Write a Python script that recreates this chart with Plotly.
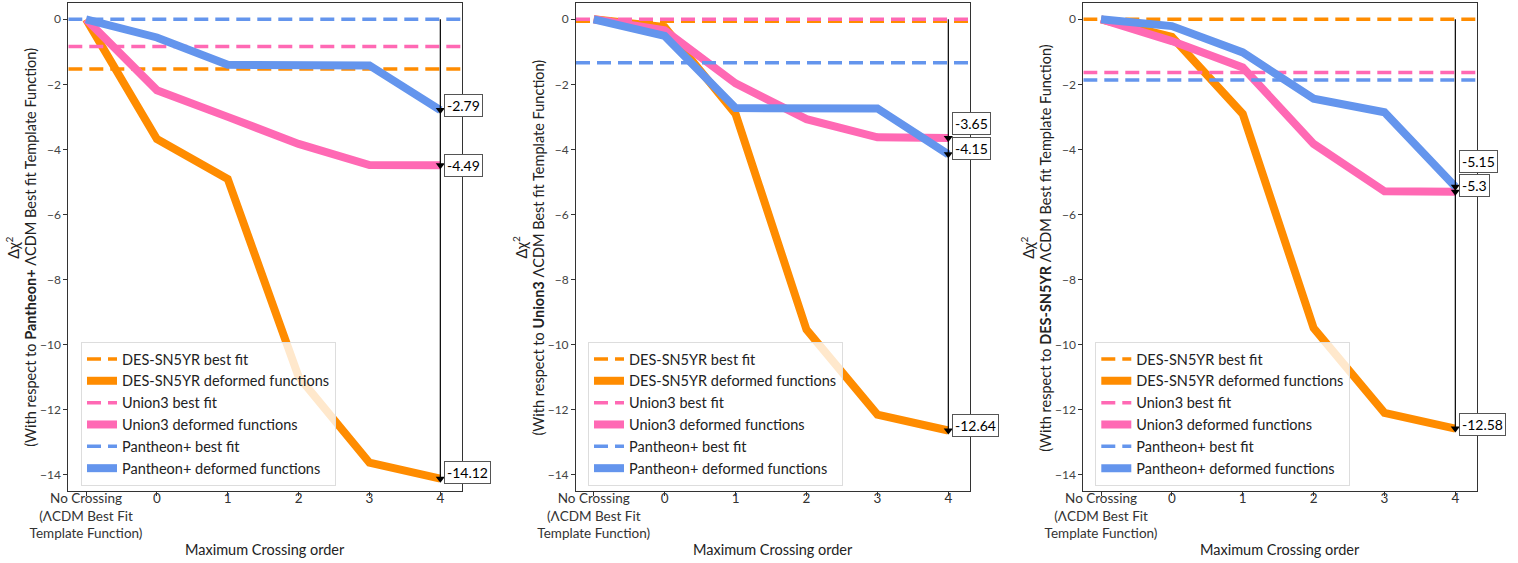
import plotly.graph_objects as go

# ---- data ----
crossing_order = [-1, 0, 1, 2, 3, 4]
tick_labels = ["No Crossing<br>(ΛCDM Best Fit<br>Template Function)", "0", "1", "2", "3", "4"]
reference_names = ["Pantheon+", "Union3", "DES-SN5YR"]

# Panel 1: with respect to Pantheon+
p1_des = [0, -3.68, -4.91, -10.99, -13.63, -14.12]
p1_union = [0, -2.18, -3.00, -3.83, -4.48, -4.49]
p1_pantheon = [0, -0.56, -1.40, -1.41, -1.42, -2.79]
p1_best = [-1.53, -0.84, 0.0]   # DES, Union3, Pantheon+ best fit

# Panel 2: with respect to Union3
p2_des = [0, -0.24, -2.91, -9.54, -12.15, -12.64]
p2_union = [0, -0.34, -1.97, -3.07, -3.63, -3.65]
p2_pantheon = [0, -0.51, -2.73, -2.72, -2.74, -4.15]
p2_best = [-0.06, 0.0, -1.34]

# Panel 3: with respect to DES-SN5YR
p3_des = [0, -0.54, -2.91, -9.49, -12.10, -12.58]
p3_union = [0, -0.67, -1.48, -3.83, -5.29, -5.30]
p3_pantheon = [0, -0.21, -1.02, -2.44, -2.86, -5.15]
p3_best = [0.0, -1.64, -1.87]

panels = [
    (p1_des, p1_union, p1_pantheon, p1_best),
    (p2_des, p2_union, p2_pantheon, p2_best),
    (p3_des, p3_union, p3_pantheon, p3_best),
]
# label vertical shifts (px) for DES, Union3, Pantheon+ end-value boxes
label_yshift = [[6, 0, 5], [5, 15, 6], [4, 6, 25]]

series_names = ["DES-SN5YR", "Union3", "Pantheon+"]
colors = ["#FF8C00", "#FF69B4", "#6495ED"]

W, H = 1518, 563
x_domains = [(68.3 / W, 462.3 / W), (576 / W, 970.3 / W), (1083.3 / W, 1477.3 / W)]
y_domain = (1 - 491 / H, 1 - 3 / H)
legend_x = [81 / W, 588 / W, 1095.3 / W]

FONT = "Lato"
fig = go.Figure()

for i, (des, uni, pan, best) in enumerate(panels):
    ax = "" if i == 0 else str(i + 1)
    xref, yref = "x" + ax, "y" + ax
    leg = "legend" + ax
    deformed = [des, uni, pan]
    for k in range(3):
        fig.add_trace(go.Scatter(
            x=[crossing_order[0] - 0.25, crossing_order[-1] + 0.31], y=[best[k], best[k]],
            mode="lines", line=dict(color=colors[k], width=3.5, dash="14px,7px"),
            name=series_names[k] + " best fit", xaxis=xref, yaxis=yref, legend=leg))
        fig.add_trace(go.Scatter(
            x=crossing_order, y=deformed[k], mode="lines",
            line=dict(color=colors[k], width=8),
            name=series_names[k] + " deformed functions", xaxis=xref, yaxis=yref, legend=leg))
    ends = [d[-1] for d in deformed]
    fig.add_trace(go.Scatter(
        x=[crossing_order[-1], crossing_order[-1]], y=[0, min(ends)], mode="lines",
        line=dict(color="black", width=1.2), showlegend=False, xaxis=xref, yaxis=yref))
    fig.add_trace(go.Scatter(
        x=[crossing_order[-1]] * 3, y=ends, mode="markers",
        marker=dict(symbol="triangle-down", size=8, color="black"),
        showlegend=False, xaxis=xref, yaxis=yref))
    for k in range(3):
        fig.add_annotation(
            x=crossing_order[-1], y=ends[k], xref=xref, yref=yref,
            text=("%g" % ends[k]),
            showarrow=False, xanchor="left", yanchor="middle",
            xshift=4, yshift=label_yshift[i][k],
            font=dict(family=FONT, size=14, color="black"),
            bgcolor="white", bordercolor="#555", borderwidth=1, borderpad=2)
    xa = dict(domain=x_domains[i], range=[-1.25, 4.31], tickvals=crossing_order,
              ticktext=tick_labels, showgrid=False, zeroline=False, automargin=False,
              showline=True, linecolor="#333", linewidth=1, mirror=True,
              ticks="outside", ticklen=4, tickcolor="#333", ticklabelstandoff=-9,
              tickfont=dict(family=FONT, size=13.5, color="#333"),
              anchor=yref)
    ya = dict(domain=y_domain, range=[-14.5, 0.5], tickvals=[0, -2, -4, -6, -8, -10, -12, -14],
              showgrid=False, zeroline=False, automargin=False,
              showline=True, linecolor="#333", linewidth=1, mirror=True,
              ticks="outside", ticklen=4, tickcolor="#333",
              tickfont=dict(family=FONT, size=12, color="#444"),
              anchor=xref)
    fig.update_layout(**{"xaxis" + ax: xa, "yaxis" + ax: ya})
    fig.update_layout(**{leg: dict(
        x=legend_x[i], y=1 - 486 / H, xanchor="left", yanchor="bottom",
        bgcolor="rgba(255,255,255,0.8)", bordercolor="#ddd", borderwidth=1,
        font=dict(family=FONT, size=14.5, color="#222"), tracegroupgap=0)})
    # y-axis title (two lines)
    ymid = 1 - 247.5 / H
    fig.add_annotation(
        x=(x_domains[i][0] * W - 56) / W, y=ymid,
        xref="paper", yref="paper", textangle=-90, showarrow=False,
        xanchor="center", yanchor="middle",
        text="Δχ<sup>2</sup>",
        font=dict(family=FONT, size=14.5, color="#222"))
    fig.add_annotation(
        x=(x_domains[i][0] * W - 38) / W, y=ymid,
        xref="paper", yref="paper", textangle=-90, showarrow=False,
        xanchor="center", yanchor="middle",
        text="(With respect to <b>" + reference_names[i] +
             "</b> ΛCDM Best fit Template Function)",
        font=dict(family=FONT, size=14.5, color="#222"))
    # x-axis title
    fig.add_annotation(
        x=(x_domains[i][0] + x_domains[i][1]) / 2, y=1 - 549 / H,
        xref="paper", yref="paper", showarrow=False,
        xanchor="center", yanchor="middle",
        text="Maximum Crossing order",
        font=dict(family=FONT, size=14.5, color="#222"))

fig.update_layout(width=W, height=H, margin=dict(l=0, r=0, t=0, b=0),
                  plot_bgcolor="white", paper_bgcolor="white")
fig.write_html("out.html", config={"displayModeBar": False},
               post_script="document.body.style.margin='0';document.body.style.overflow='hidden';")
